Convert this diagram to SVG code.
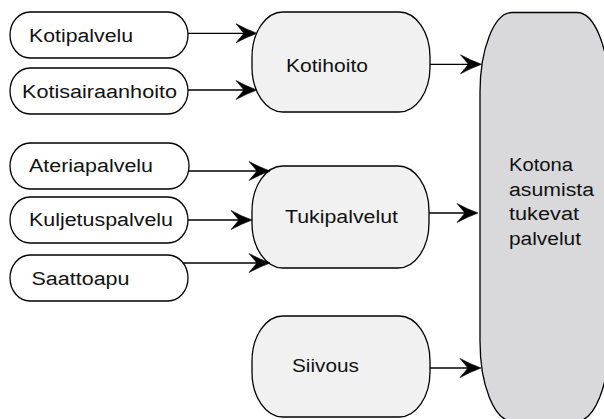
<svg xmlns="http://www.w3.org/2000/svg" width="604" height="419" viewBox="0 0 604 419">
<style>
.src{fill:#ffffff;stroke:#000;stroke-width:1.3}
.mid{fill:#f1f1f1;stroke:#000;stroke-width:1.3}
.big{fill:#d9d9db;stroke:#000;stroke-width:1.3}
text{font-family:"Liberation Sans",Arial,Helvetica,sans-serif;font-size:18px;fill:#111}
.edge{fill:none;stroke:#000;stroke-width:1.3}
</style>
<defs>
<marker id="arr" markerUnits="userSpaceOnUse" markerWidth="26" markerHeight="24" refX="8" refY="0" orient="auto" overflow="visible" viewBox="-2 -12 26 24">
<path d="M0,-9.5 Q10,-4 21,0 Q10,4 0,9.5 L8,0 Z" fill="#000" stroke="#000" stroke-width="0.6" stroke-linejoin="miter"/>
</marker>
</defs>
<g id="kotona">
<rect class="big" x="480" y="12.5" width="129" height="408.5" rx="32" ry="80"/>
<text x="509" y="171" textLength="64" lengthAdjust="spacingAndGlyphs">Kotona</text>
<text x="509" y="195.5" textLength="85" lengthAdjust="spacingAndGlyphs">asumista</text>
<text x="509" y="220" textLength="70" lengthAdjust="spacingAndGlyphs">tukevat</text>
<text x="509" y="244.5" textLength="72" lengthAdjust="spacingAndGlyphs">palvelut</text>
</g>
<g id="kotihoito">
<rect class="mid" x="252" y="12" width="178" height="100" rx="31" ry="45"/>
<text x="286" y="71.5" textLength="82" lengthAdjust="spacingAndGlyphs">Kotihoito</text>
</g>
<g id="tukipalvelut">
<rect class="mid" x="252" y="166" width="177" height="102" rx="31" ry="45"/>
<text x="285" y="222.5" textLength="113" lengthAdjust="spacingAndGlyphs">Tukipalvelut</text>
</g>
<g id="siivous">
<rect class="mid" x="252" y="316" width="178" height="101" rx="31" ry="45"/>
<text x="292" y="371.5" textLength="67" lengthAdjust="spacingAndGlyphs">Siivous</text>
</g>
<g id="kotipalvelu">
<rect class="src" x="10" y="12" width="178" height="46" rx="20" ry="23"/>
<text x="29" y="41.5" textLength="104" lengthAdjust="spacingAndGlyphs">Kotipalvelu</text>
</g>
<g id="kotisairaanhoito">
<rect class="src" x="10" y="68" width="178" height="46" rx="20" ry="23"/>
<text x="22" y="97.5" textLength="155" lengthAdjust="spacingAndGlyphs">Kotisairaanhoito</text>
</g>
<g id="ateriapalvelu">
<rect class="src" x="10" y="143" width="179" height="46" rx="20" ry="23"/>
<text x="29" y="171.5" textLength="124" lengthAdjust="spacingAndGlyphs">Ateriapalvelu</text>
</g>
<g id="kuljetuspalvelu">
<rect class="src" x="10" y="197" width="178" height="46" rx="20" ry="23"/>
<text x="29" y="226" textLength="144" lengthAdjust="spacingAndGlyphs">Kuljetuspalvelu</text>
</g>
<g id="saattoapu">
<rect class="src" x="10" y="255" width="178" height="46" rx="20" ry="23"/>
<text x="31.5" y="284.5" textLength="98" lengthAdjust="spacingAndGlyphs">Saattoapu</text>
</g>
<g id="connectors">
<path class="edge" d="M188,33.3 L244,33.3" marker-end="url(#arr)"/>
<path class="edge" d="M188,90 L244,90" marker-end="url(#arr)"/>
<path class="edge" d="M189,171 L257,171" marker-end="url(#arr)"/>
<path class="edge" d="M188,220 L239,220" marker-end="url(#arr)"/>
<path class="edge" d="M183,263 L257,263" marker-end="url(#arr)"/>
<path class="edge" d="M430,64.3 L468.5,64.3" marker-end="url(#arr)"/>
<path class="edge" d="M429,213 L465,213" marker-end="url(#arr)"/>
<path class="edge" d="M430,368 L468,368" marker-end="url(#arr)"/>
</g>
</svg>
